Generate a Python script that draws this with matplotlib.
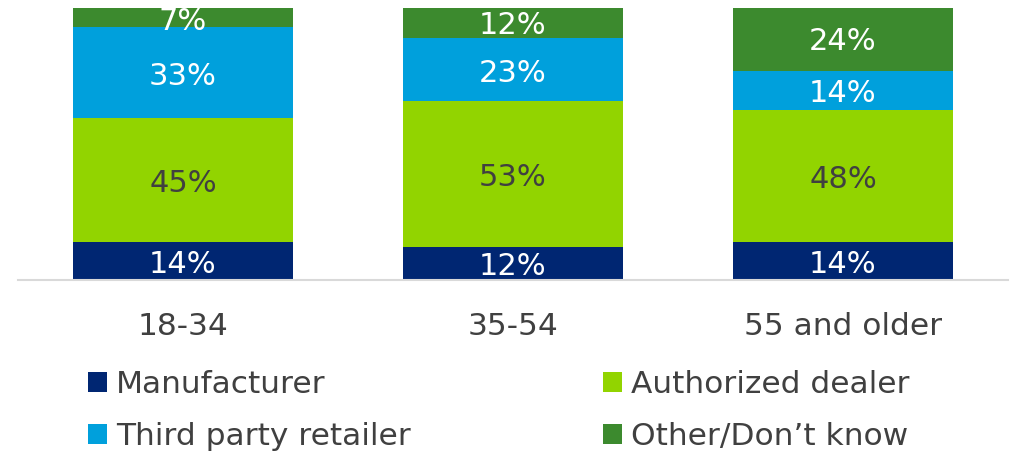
import matplotlib
matplotlib.use("Agg")
from matplotlib import pyplot as plt
import numpy as np

plt.rcParams['font.family'] = ['DejaVu Sans']

groups = ["18-34", "35-54", "55 and older"]
series = ["Manufacturer", "Authorized dealer", "Third party retailer", "Other/Don\u2019t know"]
manufacturer = [14, 12, 14]
authorized = [45, 53, 48]
third_party = [33, 23, 14]
other = [7, 12, 24]
colores = ["#002672", "#92D400", "#00A0DC", "#3C8A2E"]
color_texto = ["white", "#404040", "white", "white"]

valores = [manufacturer, authorized, third_party, other]

fig = plt.figure(figsize=(10.12, 4.55), dpi=100)
ax = fig.add_axes([18/1012, 175/455, 990/1012, 272/455])

x = np.arange(len(groups))
base = np.zeros(len(groups))
barras = []
for nombre, vals, col, ct in zip(series, valores, colores, color_texto):
    b = ax.bar(x, vals, bottom=base, width=0.667, color=col, label=nombre)
    barras.append(b)
    for xi, v, b0 in zip(x, vals, base):
        ax.annotate("{}%".format(v), (xi, b0 + v / 2), xytext=(0, -2.5),
                    textcoords="offset points", ha="center", va="center",
                    color=ct, fontsize=22, annotation_clip=False, clip_on=True)
    base = base + np.array(vals)

ax.set_xlim(-0.5, 2.5)
ax.set_ylim(0, 99)
ax.set_xticks(x)
ax.set_xticklabels(groups, fontsize=22.5, color="#404040")
ax.tick_params(axis="x", length=0, pad=23)
ax.set_yticks([])
for s in ["top", "left", "right"]:
    ax.spines[s].set_visible(False)
ax.spines["bottom"].set_color("#d9d9d9")
ax.spines["bottom"].set_linewidth(1.5)

# leyenda en dos columnas debajo del grafico
orden = [0, 2, 1, 3]
leg = fig.legend([barras[i] for i in orden], [series[i] for i in orden],
                 ncol=2, loc="upper left", bbox_to_anchor=(88/1012, 1 - 370/455),
                 frameon=False, fontsize=22.5, handlelength=0.6, handleheight=0.6,
                 handletextpad=0.3, labelspacing=0.74, columnspacing=6.15,
                 borderpad=0, borderaxespad=0)
for t in leg.get_texts():
    t.set_color("#404040")

fig.savefig("out.png", dpi=100)
